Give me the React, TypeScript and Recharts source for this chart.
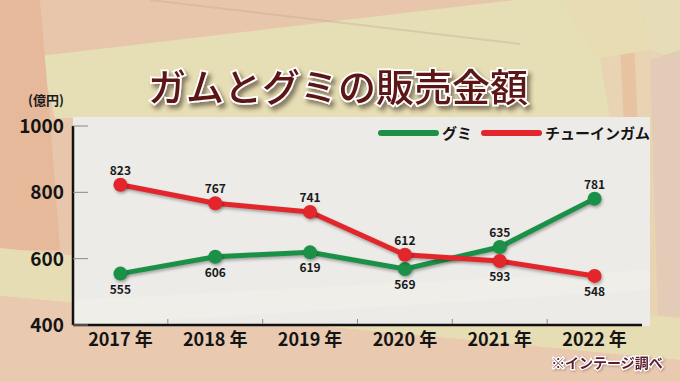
import React from 'react';
import { LineChart, Line, XAxis, YAxis, LabelList } from 'recharts';

const years = ['2017 年', '2018 年', '2019 年', '2020 年', '2021 年', '2022 年'];
const gumiValues = [555, 606, 619, 569, 635, 781];
const gumValues = [823, 767, 741, 612, 593, 548];
const yTicks = [400, 600, 800, 1000];
const seriesNames = ['グミ', 'チューインガム'];
const seriesColors = ['#1b9148', '#e2262c'];
const titleText = 'ガムとグミの販売金額';
const unitLabel = '(億円)';
const sourceNote = '※インテージ調べ';

const data = years.map((y, i) => ({ year: y, gumi: gumiValues[i], gum: gumValues[i] }));

const W = 680;
const H = 382;
const M = { top: 126, right: 38, bottom: 0, left: 0 };
const Y_AXIS_W = 73;
const X_AXIS_H = 57;
const PLOT_W = W - M.left - M.right - Y_AXIS_W;
const BAND = PLOT_W / years.length;
const FONT = '"Noto Sans CJK JP", "Noto Sans", sans-serif';

const YTick = (p: any) => {
  const { x, y, payload } = p;
  return (
    <g>
      <line x1={x} x2={x + 15} y1={y} y2={y} stroke="#8a8a8a" strokeWidth={1} />
      <text x={x - 9} y={y} dy={7} textAnchor="end" fontFamily={FONT} fontWeight={700} fontSize={19} fill="#141414">
        {payload.value}
      </text>
    </g>
  );
};

const XTick = (p: any) => {
  const { x, y, payload, index } = p;
  const idx = index ?? payload.index ?? 0;
  return (
    <g>
      {idx > 0 && (
        <line x1={x - BAND / 2} x2={x - BAND / 2} y1={y - 1} y2={y - 6} stroke="#8a8a8a" strokeWidth={1} />
      )}
      <text x={x} y={y + 21} textAnchor="middle" fontFamily={FONT} fontWeight={700} fontSize={18} fill="#141414">
        {payload.value}
      </text>
    </g>
  );
};

const makeLabel = (own: number[], other: number[]) => (p: any) => {
  const { x, y, value } = p;
  let idx = p.index;
  if (idx === undefined || idx === null) idx = own.indexOf(value);
  const above = own[idx] > other[idx];
  return (
    <text
      x={x}
      y={above ? y - 10 : y + 20}
      textAnchor="middle"
      fontFamily={FONT}
      fontWeight={700}
      fontSize={12}
      fill="#1a1a1a"
    >
      {value}
    </text>
  );
};

const Background = () => (
  <svg width={W} height={H} style={{ position: 'absolute', left: 0, top: 0 }}>
    <rect x={0} y={0} width={W} height={H} fill="#e8c6ab" />
    {/* right tan region */}
    <polygon points="515,0 680,0 680,382 560,382" fill="#e8d3b2" />
    <polygon points="640,0 680,0 680,60 650,50" fill="#e6dcb8" />
    <polygon points="650,60 680,50 680,382 660,382" fill="#e3cbb8" />
    <polygon points="618,0 632,0 650,382 636,382" fill="#e8c3a2" />
    {/* top yellow band */}
    <polygon points="40,56 515,0 560,0 600,58 610,118 55,118" fill="#e6deb4" />
    <polygon points="560,0 640,0 650,50 600,58" fill="#e7dcb2" />
    {/* left strip */}
    <polygon points="0,0 40,0 50,118 60,250 0,250" fill="#e5b999" />
    {/* lower yellow streak */}
    <polygon points="0,248 680,318 680,360 0,296" fill="#e7ddb4" />
    <polygon points="0,296 680,360 680,382 0,382" fill="#e9c9b0" />
    {/* thin diagonal streak at top */}
    <line x1={150} y1={0} x2={520} y2={44} stroke="#b8a898" strokeWidth={2} opacity={0.35} />
    {/* plot panel */}
    <rect x={73} y={117} width={577} height={209} fill="#ecebe8" />
    <polygon points="73,300 650,270 650,290 73,326" fill="#f1f0ea" opacity={0.7} />
    <defs>
      <filter id="tshadow" x="-10%" y="-20%" width="130%" height="160%">
        <feDropShadow dx={3} dy={4} stdDeviation={2} floodColor="#3a2a20" floodOpacity={0.55} />
      </filter>
      <filter id="nshadow" x="-10%" y="-30%" width="130%" height="170%">
        <feDropShadow dx={1} dy={1} stdDeviation={1} floodColor="#5a4030" floodOpacity={0.4} />
      </filter>
    </defs>
    <text
      x={338}
      y={101}
      textAnchor="middle"
      fontFamily={FONT}
      fontWeight={500}
      fontSize={38}
      fill="#5c1319"
      stroke="#ffffff"
      strokeWidth={3.5}
      paintOrder="stroke"
      filter="url(#tshadow)"
    >
      {titleText}
    </text>
    <text x={46} y={105} textAnchor="middle" fontFamily={FONT} fontWeight={700} fontSize={13} fill="#1a1a1a">
      {unitLabel}
    </text>
    <text
      x={607}
      y={368}
      textAnchor="middle"
      fontFamily={FONT}
      fontWeight={700}
      fontSize={14}
      fill="#5a1a2e"
      stroke="#ffffff"
      strokeWidth={2.5}
      paintOrder="stroke"
      filter="url(#nshadow)"
    >
      {sourceNote}
    </text>
  </svg>
);

const LegendOverlay = () => {
  const items = [
    { x: 381, len: 55, textX: 442 },
    { x: 484, len: 55, textX: 545 },
  ];
  return (
    <svg width={W} height={H} style={{ position: 'absolute', left: 0, top: 0, pointerEvents: 'none' }}>
      {seriesNames.map((n, i) => (
        <g key={n}>
          <line
            x1={items[i].x}
            x2={items[i].x + items[i].len}
            y1={133}
            y2={133}
            stroke={seriesColors[i]}
            strokeWidth={6}
            strokeLinecap="round"
          />
          <text x={items[i].textX} y={139} fontFamily={FONT} fontWeight={700} fontSize={15} fill="#141414">
            {n}
          </text>
        </g>
      ))}
    </svg>
  );
};

export default function App() {
  return (
    <div style={{ position: 'absolute', left: 0, top: 0, width: W, height: H, overflow: 'hidden' }}>
      <style>{`.recharts-line-curve, .recharts-line-dots { filter: drop-shadow(1px 2px 1.5px rgba(0,0,0,0.3)); }`}</style>
      <Background />
      <div style={{ position: 'absolute', left: 0, top: 0 }}>
        <LineChart width={W} height={H} data={data} margin={M}>
          <XAxis
            dataKey="year"
            interval={0}
            padding={{ left: BAND / 2, right: BAND / 2 }}
            height={X_AXIS_H}
            tickSize={0}
            tickMargin={0}
            tickLine={false}
            axisLine={{ stroke: '#111', strokeWidth: 2.5 }}
            tick={<XTick />}
          />
          <YAxis
            domain={[400, 1000]}
            ticks={yTicks}
            width={Y_AXIS_W}
            tickSize={0}
            tickMargin={0}
            tickLine={false}
            axisLine={{ stroke: '#111', strokeWidth: 2.5 }}
            tick={<YTick />}
          />
          <Line
            dataKey="gumi"
            name={seriesNames[0]}
            type="linear"
            stroke={seriesColors[0]}
            strokeWidth={5}
            dot={{ r: 7, fill: seriesColors[0], stroke: seriesColors[0], strokeWidth: 0 }}
            activeDot={false}
            isAnimationActive={false}
          >
            <LabelList dataKey="gumi" content={makeLabel(gumiValues, gumValues)} />
          </Line>
          <Line
            dataKey="gum"
            name={seriesNames[1]}
            type="linear"
            stroke={seriesColors[1]}
            strokeWidth={5}
            dot={{ r: 7, fill: seriesColors[1], stroke: seriesColors[1], strokeWidth: 0 }}
            activeDot={false}
            isAnimationActive={false}
          >
            <LabelList dataKey="gum" content={makeLabel(gumValues, gumiValues)} />
          </Line>
        </LineChart>
      </div>
      <LegendOverlay />
    </div>
  );
}
